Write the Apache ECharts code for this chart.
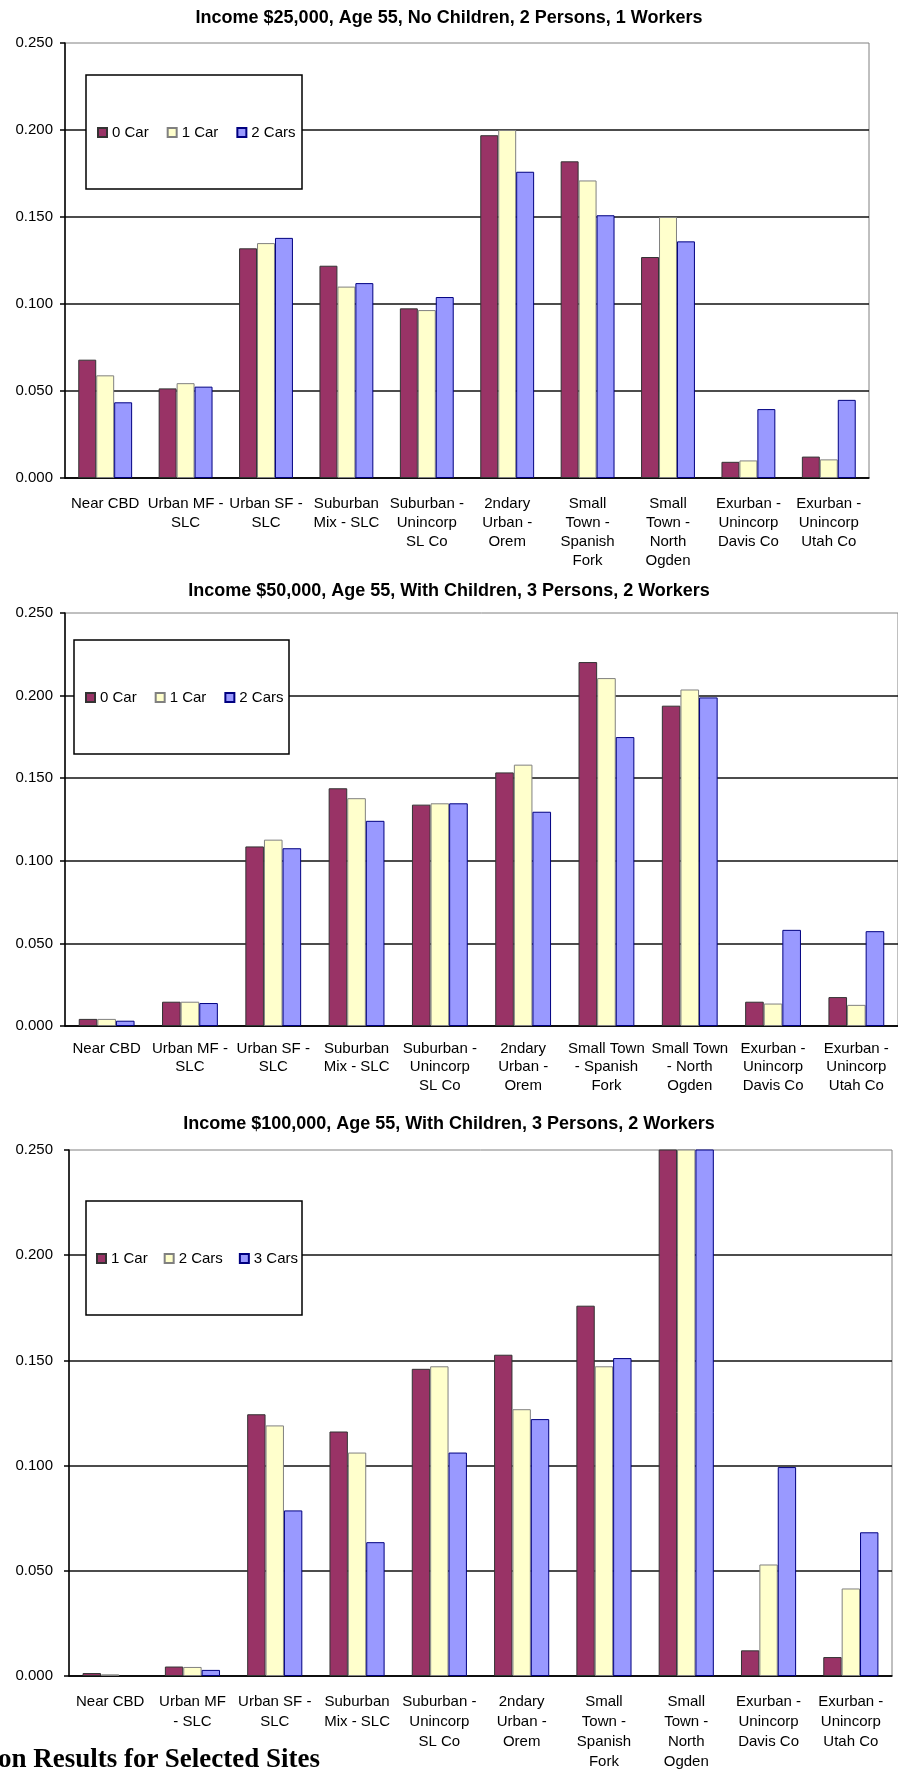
<!DOCTYPE html>
<html>
<head>
<meta charset="utf-8">
<script src="https://cdn.jsdelivr.net/npm/echarts@6.0.0/dist/echarts.min.js"></script>
<style>
  html, body { margin: 0; padding: 0; background: #fff; }
  .chart { position: absolute; left: 0; top: 0; width: 898px; height: 1773px; }
  #caption {
    position: absolute; left: -2px; top: 1745px; white-space: nowrap;
    font: bold 27px "Liberation Serif", "Times New Roman", serif; line-height: 27px; color: #000;
  }
</style>
</head>
<body>
<div id="c1" class="chart"></div>
<div id="c2" class="chart"></div>
<div id="c3" class="chart"></div>
<div id="caption">on Results for Selected Sites</div>
<script>
// tick labels shared by all three panels
const yTickLabels = ["0.000", "0.050", "0.100", "0.150", "0.200", "0.250"];

// site names, wrapped the way each panel wraps them
const sites25 = ["Near CBD", "Urban MF -\nSLC", "Urban SF -\nSLC", "Suburban\nMix - SLC", "Suburban -\nUnincorp\nSL Co",
  "2ndary\nUrban -\nOrem", "Small\nTown -\nSpanish\nFork", "Small\nTown -\nNorth\nOgden", "Exurban -\nUnincorp\nDavis Co", "Exurban -\nUnincorp\nUtah Co"];
const sites50 = ["Near CBD", "Urban MF -\nSLC", "Urban SF -\nSLC", "Suburban\nMix - SLC", "Suburban -\nUnincorp\nSL Co",
  "2ndary\nUrban -\nOrem", "Small Town\n- Spanish\nFork", "Small Town\n- North\nOgden", "Exurban -\nUnincorp\nDavis Co", "Exurban -\nUnincorp\nUtah Co"];
const sites100 = ["Near CBD", "Urban MF\n- SLC", "Urban SF -\nSLC", "Suburban\nMix - SLC", "Suburban -\nUnincorp\nSL Co",
  "2ndary\nUrban -\nOrem", "Small\nTown -\nSpanish\nFork", "Small\nTown -\nNorth\nOgden", "Exurban -\nUnincorp\nDavis Co", "Exurban -\nUnincorp\nUtah Co"];

// Income $25,000
const inc25_0car = [0.068, 0.0515, 0.132, 0.122, 0.0975, 0.197, 0.182, 0.127, 0.0093, 0.0123];
const inc25_1car = [0.059, 0.0545, 0.135, 0.110, 0.0965, 0.200, 0.171, 0.150, 0.0101, 0.0107];
const inc25_2cars = [0.0435, 0.0525, 0.138, 0.112, 0.104, 0.176, 0.151, 0.136, 0.0396, 0.0449];

// Income $50,000
const inc50_0car = [0.0043, 0.0147, 0.1087, 0.1439, 0.134, 0.1535, 0.2203, 0.1939, 0.0147, 0.0175];
const inc50_1car = [0.0043, 0.0147, 0.1128, 0.1379, 0.1348, 0.1582, 0.2106, 0.2037, 0.0136, 0.0128];
const inc50_2cars = [0.0032, 0.0139, 0.1076, 0.1242, 0.1348, 0.1297, 0.1749, 0.1989, 0.0582, 0.0574];

// Income $100,000 (North Ogden runs off the top of the axis)
const inc100_1car = [0.0014, 0.0045, 0.1244, 0.1162, 0.146, 0.1527, 0.176, 0.27, 0.0122, 0.009];
const inc100_2cars = [0.0008, 0.0043, 0.1191, 0.1062, 0.1472, 0.1268, 0.1472, 0.265, 0.053, 0.0416];
const inc100_3cars = [null, 0.0029, 0.0787, 0.0636, 0.1062, 0.1221, 0.1511, 0.26, 0.0993, 0.0683];

const FONT = '"Liberation Sans", Arial, sans-serif';
const fills = ["#993366", "#FFFFCC", "#9999FF"];
const edges = ["#333333", "#808080", "#000080"];

function buildOption(cfg) {
  const black = { color: "#000", width: 1.5 };
  return {
    animation: false,
    textStyle: { fontFamily: FONT },
    title: {
      text: cfg.title, left: "center", top: cfg.titleTop, padding: 0,
      textStyle: { fontFamily: FONT, fontSize: 18, fontWeight: "bold", color: "#000" }
    },
    grid: {
      left: cfg.grid[0], top: cfg.grid[1], width: cfg.grid[2], height: cfg.grid[3],
      show: true, borderColor: "#808080", borderWidth: 1, containLabel: false
    },
    graphic: [{
      type: "rect", z: 3,
      shape: { x: cfg.box[0], y: cfg.box[1], width: cfg.box[2], height: cfg.box[3] },
      style: { fill: "#fff", stroke: "#000", lineWidth: 1.5 }
    }],
    legend: {
      left: cfg.legend[0], top: cfg.legend[1], padding: 0, itemGap: cfg.legendGap,
      itemWidth: 9, itemHeight: 9, icon: "rect", z: 5,
      textStyle: { fontFamily: FONT, fontSize: 15, color: "#000" },
      data: cfg.names
    },
    xAxis: {
      type: "category", data: cfg.cats,
      axisLine: { lineStyle: black },
      axisTick: { length: 5, lineStyle: { color: "#000", width: 1.5 } },
      axisLabel: { interval: 0, margin: cfg.xMargin, lineHeight: cfg.lineHeight, fontSize: 15, color: "#000", fontFamily: FONT },
      splitLine: { show: false }
    },
    yAxis: {
      type: "value", min: 0, max: 0.25, interval: 0.05,
      axisLine: { show: true, lineStyle: black },
      axisTick: { show: true, length: 5, lineStyle: { color: "#000", width: 1.5 } },
      axisLabel: { margin: cfg.yMargin, fontSize: 15, color: "#000", fontFamily: FONT,
        formatter: (v, i) => yTickLabels[i] },
      splitLine: { show: true, showMaxLine: false, lineStyle: { color: "#111", width: 1.5 } }
    },
    series: cfg.names.map((n, i) => ({
      name: n, type: "bar", data: cfg.values[i],
      barGap: "0%", barCategoryGap: "33%", clip: true,
      itemStyle: { color: fills[i], borderColor: edges[i], borderWidth: 1 }
    }))
  };
}

const panels = [
  {
    el: "c1", title: "Income $25,000, Age 55, No Children, 2 Persons, 1 Workers", titleTop: 9,
    grid: [65, 43, 804, 435], box: [86, 75, 216, 114], legend: [97, 125], legendGap: 18,
    cats: sites25, names: ["0 Car", "1 Car", "2 Cars"], values: [inc25_0car, inc25_1car, inc25_2cars],
    xMargin: 16, lineHeight: 19, yMargin: 12
  },
  {
    el: "c2", title: "Income $50,000, Age 55, With Children, 3 Persons, 2 Workers", titleTop: 582,
    grid: [65, 613, 833, 413], box: [74, 640, 215, 114], legend: [85, 690], legendGap: 18,
    cats: sites50, names: ["0 Car", "1 Car", "2 Cars"], values: [inc50_0car, inc50_1car, inc50_2cars],
    xMargin: 13, lineHeight: 18.75, yMargin: 12
  },
  {
    el: "c3", title: "Income $100,000, Age 55, With Children, 3 Persons, 2 Workers", titleTop: 1115,
    grid: [69, 1150, 823, 526], box: [86, 1201, 216, 114], legend: [96, 1251], legendGap: 16,
    cats: sites100, names: ["1 Car", "2 Cars", "3 Cars"], values: [inc100_1car, inc100_2cars, inc100_3cars],
    xMargin: 16, lineHeight: 20, yMargin: 16
  }
];

panels.forEach((p) => {
  const chart = echarts.init(document.getElementById(p.el), null, { renderer: "canvas" });
  chart.setOption(buildOption(p));
});
</script>
</body>
</html>
